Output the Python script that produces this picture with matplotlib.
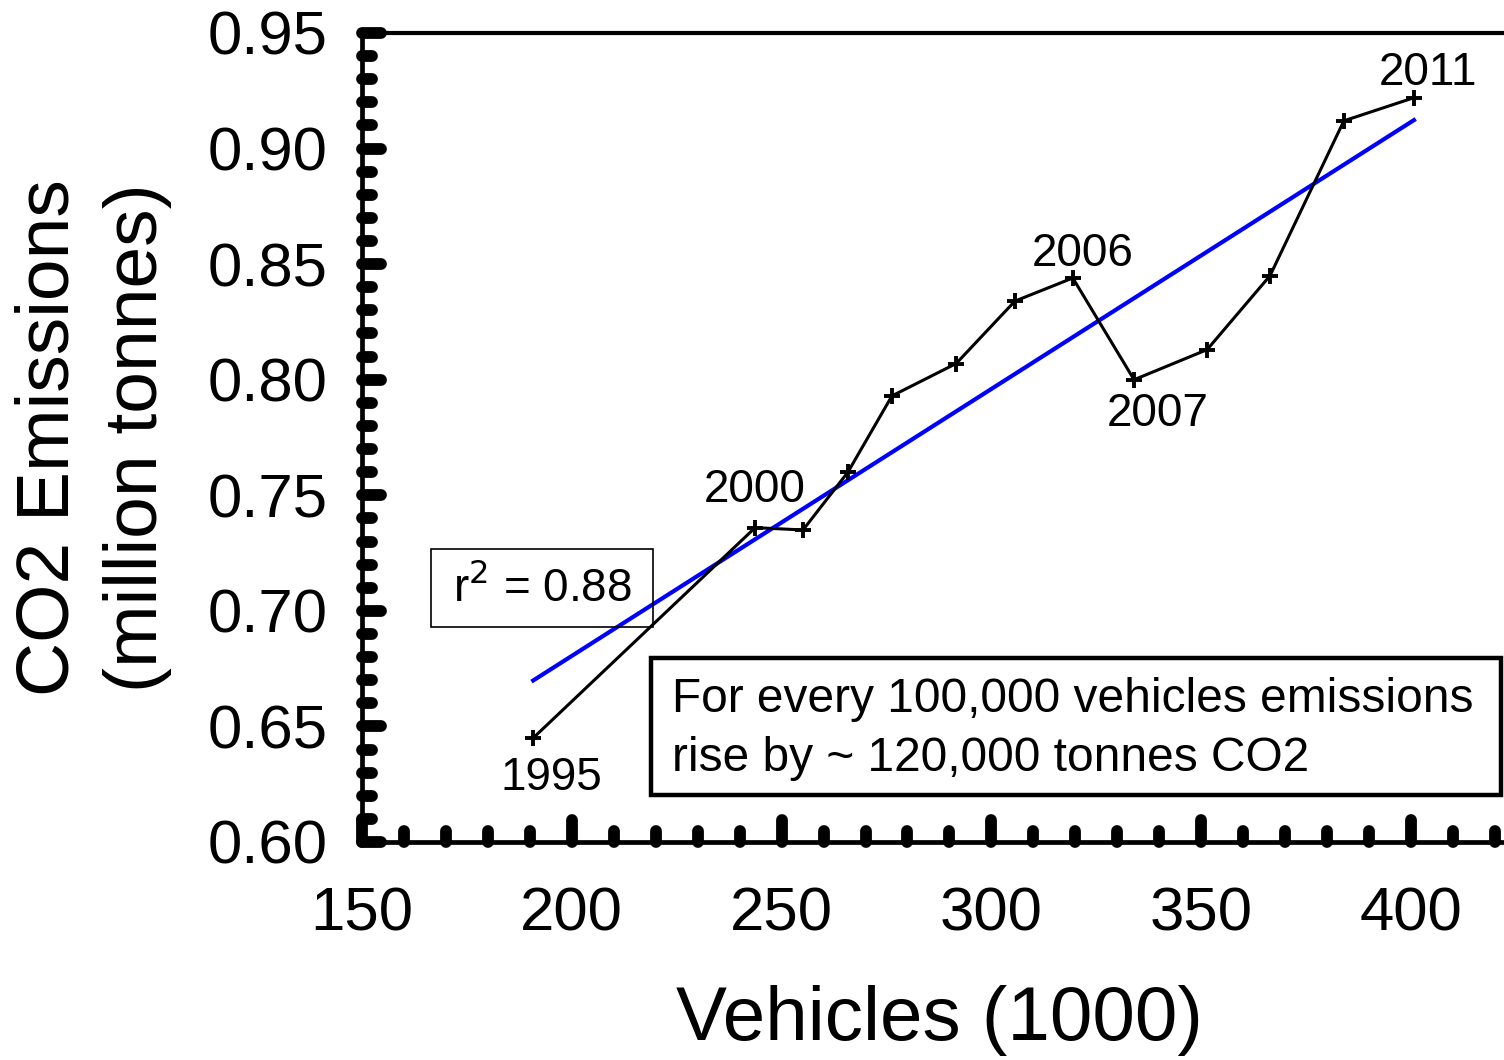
import numpy as np
import matplotlib
matplotlib.use("Agg")
import matplotlib.pyplot as plt
from matplotlib.markers import MarkerStyle
from matplotlib.patches import Rectangle
from matplotlib.ticker import MultipleLocator, FormatStrFormatter

plt.rcParams['font.family'] = ['Liberation Sans', 'DejaVu Sans']

# ---- data ----
years = [1995, 2000, 2001, 2002, 2003, 2004, 2005, 2006, 2007, 2008, 2009, 2010, 2011]
vehicles = [190.8, 243.7, 255.1, 265.8, 276.3, 291.6, 305.6, 319.4, 334.0, 351.4, 366.4, 384.0, 400.7]
emissions = [0.645, 0.736, 0.735, 0.760, 0.793, 0.807, 0.834, 0.844, 0.800, 0.813, 0.845, 0.912, 0.922]
labelled_years = {1995: (13, -29), 2000: (0, 27), 2006: (7, 17), 2007: (17, -25), 2011: (10, 18)}
r2_text = "r$^2$ = 0.88"
note_text = "For every 100,000 vehicles emissions\nrise by ~ 120,000 tonnes CO2"

W, H = 1504, 1060
fig = plt.figure(figsize=(W / 100, H / 100), dpi=100)

xmin, xmax = 150, 430
ymin, ymax = 0.60, 0.95
px_per_x = 1049 / 250.0
left_px, bottom_px, top_px = 362, 842, 33
ax_w = (xmax - xmin) * px_per_x
ax = fig.add_axes([left_px / W, (H - bottom_px) / H, ax_w / W, (bottom_px - top_px) / H])

ax.set_xlim(xmin, xmax)
ax.set_ylim(ymin, ymax)

# regression line
coef = np.polyfit(vehicles, emissions, 1)
xfit = np.array([min(vehicles), max(vehicles)])
ax.plot(xfit, np.polyval(coef, xfit), color='#0000ff', lw=3.0, zorder=3)

# data line
ax.plot(vehicles, emissions, color='black', lw=2.2, marker='+', ms=11, mew=2.8, zorder=4)

for yr, off in labelled_years.items():
    i = years.index(yr)
    ax.annotate(str(yr), (vehicles[i], emissions[i]), xytext=off, textcoords='offset points',
                ha='center', va='center', fontsize=33)

# axes styling
for s in ['left', 'bottom']:
    ax.spines[s].set_linewidth(3.4)
ax.spines['right'].set_visible(False)
ax.spines['top'].set_linewidth(3.0)

ax.xaxis.set_major_locator(MultipleLocator(50))
ax.xaxis.set_minor_locator(MultipleLocator(10))
ax.yaxis.set_major_locator(MultipleLocator(0.05))
ax.yaxis.set_minor_locator(MultipleLocator(0.01))
ax.yaxis.set_major_formatter(FormatStrFormatter('%.2f'))
ax.xaxis.set_major_formatter(FormatStrFormatter('%d'))

ax.tick_params(which='both', direction='in', top=False, right=False, width=8.5,
               labelsize=44.5, pad=25)
ax.tick_params(axis='x', which='both', pad=32)
ax.tick_params(which='major', length=16)
ax.tick_params(which='minor', length=8)
ax.tick_params(axis='y', which='major', length=14)
ax.tick_params(axis='y', which='minor', length=7)

for axis in (ax.xaxis, ax.yaxis):
    for t in axis.get_major_ticks() + axis.get_minor_ticks():
        ln = t.tick1line
        ln.set_marker(MarkerStyle(ln.get_marker(), capstyle='round'))

ax.set_xlabel("Vehicles (1000)", fontsize=55)
ax.xaxis.set_label_coords((939 - left_px) / ax_w, (bottom_px - 1021) / (bottom_px - top_px))
ax.xaxis.label.set_va('center')
ax.set_ylabel("CO2 Emissions\n(million tonnes)", fontsize=54, linespacing=1.36)
ax.yaxis.set_label_coords((93 - left_px) / ax_w, 0.5)
ax.yaxis.label.set_va('center')

def fx(px):
    return (px - left_px) / ax_w

def fy(py):
    return (bottom_px - py) / (bottom_px - top_px)

# r^2 box
ax.add_patch(Rectangle((fx(431), fy(627)), fx(653) - fx(431), fy(549) - fy(627),
                       transform=ax.transAxes, fill=False, lw=1.2, ec='black', zorder=5))
ax.text(fx(542), fy(588), r2_text, transform=ax.transAxes, ha='center', va='center',
        fontsize=33, zorder=6)

# note box
ax.add_patch(Rectangle((fx(651), fy(795)), fx(1501) - fx(651), fy(658) - fy(795),
                       transform=ax.transAxes, fill=False, lw=3.2, ec='black', zorder=5))
ax.text(fx(672), fy(729), note_text, transform=ax.transAxes, ha='left', va='center',
        fontsize=34.5, linespacing=1.38, zorder=6)

fig.savefig("out.png", dpi=100)
